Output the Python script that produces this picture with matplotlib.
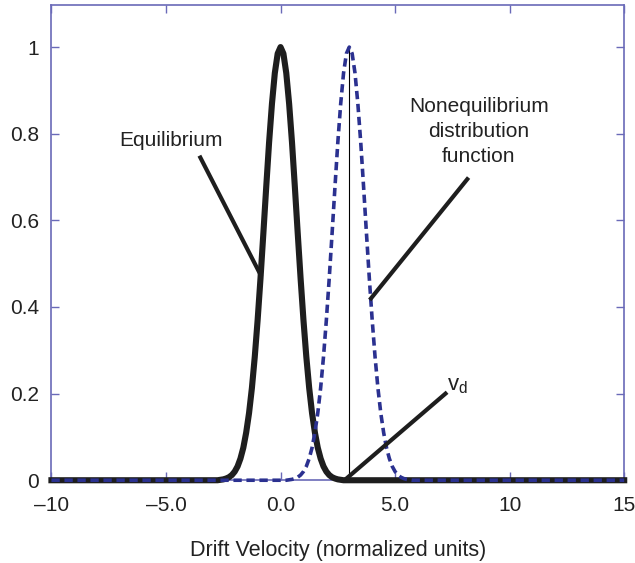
import matplotlib
matplotlib.use("Agg")
import matplotlib.pyplot as plt

plt.rcParams['font.family'] = ['Liberation Sans', 'DejaVu Sans']

# curve samples (normalized height)
eq_x = [-10, -2.75, -2.625, -2.5, -2.375, -2.25, -2.125, -2.0, -1.875, -1.75, -1.625,
        -1.5, -1.375, -1.25, -1.125, -1.0, -0.875, -0.75, -0.625, -0.5, -0.375, -0.25,
        -0.125, 0.0, 0.125, 0.25, 0.375, 0.5, 0.625, 0.75, 0.875, 1.0, 1.125, 1.25,
        1.375, 1.5, 1.625, 1.75, 1.875, 2.0, 2.125, 2.25, 2.375, 2.5, 2.625, 2.75, 15]
eq_y = [0.0, 0.0, 0.001, 0.002, 0.004, 0.007, 0.012, 0.02, 0.032, 0.05, 0.075,
        0.11, 0.155, 0.213, 0.285, 0.37, 0.466, 0.57, 0.677, 0.78, 0.869, 0.94,
        0.985, 1.0, 0.985, 0.94, 0.869, 0.78, 0.677, 0.57, 0.466, 0.37, 0.285, 0.213,
        0.155, 0.11, 0.075, 0.05, 0.032, 0.02, 0.012, 0.007, 0.004, 0.002, 0.001, 0.0, 0.0]
neq_x = [-10, 0.25, 0.375, 0.5, 0.625, 0.75, 0.875, 1.0, 1.125, 1.25, 1.375,
         1.5, 1.625, 1.75, 1.875, 2.0, 2.125, 2.25, 2.375, 2.5, 2.625, 2.75,
         2.875, 3.0, 3.125, 3.25, 3.375, 3.5, 3.625, 3.75, 3.875, 4.0, 4.125, 4.25,
         4.375, 4.5, 4.625, 4.75, 4.875, 5.0, 5.125, 5.25, 5.375, 5.5, 5.625, 5.75, 15]
neq_y = [0.0, 0.0, 0.001, 0.002, 0.004, 0.007, 0.012, 0.02, 0.032, 0.05, 0.075,
         0.11, 0.155, 0.213, 0.285, 0.37, 0.466, 0.57, 0.677, 0.78, 0.869, 0.94,
         0.985, 1.0, 0.985, 0.94, 0.869, 0.78, 0.677, 0.57, 0.466, 0.37, 0.285, 0.213,
         0.155, 0.11, 0.075, 0.05, 0.032, 0.02, 0.012, 0.007, 0.004, 0.002, 0.001, 0.0, 0.0]
drift_v = 3.0

x_ticks = [-10, -5, 0, 5, 10, 15]
x_labels = ['\u201310', '\u20135.0', '0.0', '5.0', '10', '15']
y_ticks = [0, 0.2, 0.4, 0.6, 0.8, 1.0]
y_labels = ['0', '0.2', '0.4', '0.6', '0.8', '1']

frame = '#6a6ab8'
blue = '#2b3190'
ink = '#222222'

fig = plt.figure(figsize=(6.35, 5.63), dpi=100)
ax = fig.add_axes([0.081, 0.147, 0.902, 0.844])

ax.plot(eq_x, eq_y, color='#1e1e1e', lw=4.4, clip_on=False, zorder=3,
        solid_joinstyle='round')
ax.plot(neq_x, neq_y, color=blue, lw=2.6, ls=(0, (2.3, 1.3)), clip_on=False, zorder=4)
ax.plot([drift_v, drift_v], [0, 1.0], color='black', lw=0.8, zorder=2)

# pointer lines
ax.plot([-3.5, -0.88], [0.745, 0.475], color='#1e1e1e', lw=3, zorder=5)
ax.plot([8.15, 3.95], [0.695, 0.42], color='#1e1e1e', lw=3, zorder=5)
ax.plot([7.2, 2.9], [0.2, 0.005], color='#1e1e1e', lw=3, zorder=5)

ax.text(-4.8, 0.785, 'Equilibrium', ha='center', va='center', fontsize=15, color=ink)
ax.text(8.65, 0.806, 'Nonequilibrium\ndistribution\nfunction', ha='center', va='center',
        fontsize=15, color=ink, linespacing=1.4)
ax.text(7.25, 0.218, 'v$_\\mathregular{d}$', ha='left', va='center', fontsize=16, color=ink)

ax.set_xlim(-10, 15)
ax.set_ylim(0, 1.097)
ax.set_xticks(x_ticks)
ax.set_xticklabels(x_labels)
ax.set_yticks(y_ticks)
ax.set_yticklabels(y_labels)
ax.tick_params(direction='in', length=6, width=1, color=frame, labelsize=15,
               labelcolor=ink, top=True, right=True)
ax.tick_params(axis='x', pad=11)
ax.tick_params(axis='y', pad=9)
for s in ax.spines.values():
    s.set_color(frame)
    s.set_linewidth(1.2)

ax.set_xlabel('Drift Velocity (normalized units)', fontsize=15.5, color=ink, labelpad=18)

fig.savefig('out.png', dpi=100)
